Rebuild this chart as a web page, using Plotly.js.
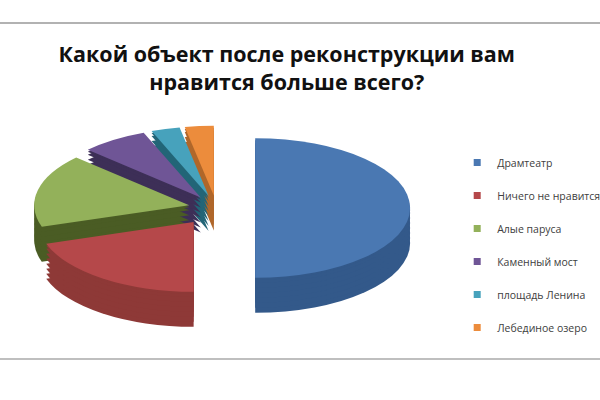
<!DOCTYPE html>
<html>
<head>
<meta charset="utf-8">
<script src="https://cdn.plot.ly/plotly-3.0.1.min.js"></script>
<style>
  html, body { margin: 0; padding: 0; background: #fff; overflow: hidden; }
  #chart { width: 600px; height: 400px; }
</style>
</head>
<body>
<div id="chart"></div>
<script>
const labels = ["Драмтеатр", "Ничего не нравится", "Алые паруса", "Каменный мост", "площадь Ленина", "Лебединое озеро"];
const values = [50, 20, 17, 7, 3, 3];

const topColors = ["#4A78B2", "#B5484A", "#93B15A", "#6F5596", "#47A2BC", "#EC8C3C"];
const sideColors = ["#33598A", "#8E3937", "#4A5C24", "#3D2F57", "#226577", "#B0672A"];
const pulls = [0.25, 0.25, 0.18, 0.18, 0.18, 0.18];

// pseudo 3D: dark copies stacked under the top face, squashed afterwards
const steps = [35, 30, 25, 20, 15, 10, 5, 2];
const squash = 0.45;
const centerY = 208;

function pieTrace(colors) {
  return {
    type: 'pie',
    labels: labels,
    values: values,
    sort: false,
    direction: 'clockwise',
    rotation: 0,
    pull: pulls,
    textinfo: 'none',
    hoverinfo: 'none',
    showlegend: false,
    marker: { colors: colors, line: { width: 0 } },
    domain: { x: [0.0378, 0.6836], y: [0, 1] }
  };
}

const traces = steps.map(() => pieTrace(sideColors));
traces.push(pieTrace(topColors));

// legend entries (one per slice, so the gap between them can be set)
labels.forEach((name, i) => {
  traces.push({
    type: 'scatter', mode: 'markers',
    x: [null], y: [null],
    name: name,
    legendgroup: 'g' + i,
    marker: { symbol: 'square', size: 7, color: topColors[i] },
    hoverinfo: 'none'
  });
});

const layout = {
  width: 600,
  height: 400,
  margin: { l: 0, r: 0, t: 0, b: 0, autoexpand: false },
  paper_bgcolor: '#fff',
  plot_bgcolor: 'rgba(0,0,0,0)',
  font: { family: 'Open Sans, sans-serif', color: '#404040' },
  xaxis: { visible: false },
  yaxis: { visible: false },
  title: {
    text: '<b>Какой объект после реконструкции вам<br>нравится больше всего?</b>',
    font: { size: 21.5, color: '#111' },
    xref: 'container', yref: 'container',
    x: 0.478, y: 0.845, xanchor: 'center', yanchor: 'middle'
  },
  showlegend: true,
  legend: {
    x: 0.762, y: 0.3875, xanchor: 'left', yanchor: 'middle',
    font: { size: 10.5, color: '#404040' },
    traceorder: 'grouped',
    tracegroupgap: 14
  },
  shapes: [
    { type: 'line', xref: 'paper', yref: 'paper', x0: 0, x1: 1, y0: 0.9425, y1: 0.9425, line: { color: '#999', width: 1.5 } },
    { type: 'line', xref: 'paper', yref: 'paper', x0: 0, x1: 1, y0: 0.1025, y1: 0.1025, line: { color: '#aaa', width: 1.5 } }
  ]
};

Plotly.newPlot('chart', traces, layout, { staticPlot: true }).then(gd => {
  const groups = gd.querySelectorAll('.pielayer g.trace');
  const cy = 200;
  groups.forEach((g, i) => {
    const off = i < steps.length ? steps[i] : 0;
    g.setAttribute('transform',
      'translate(0,' + (centerY + off) + ') scale(1,' + squash + ') translate(0,' + (-cy) + ')');
  });
});
</script>
</body>
</html>
